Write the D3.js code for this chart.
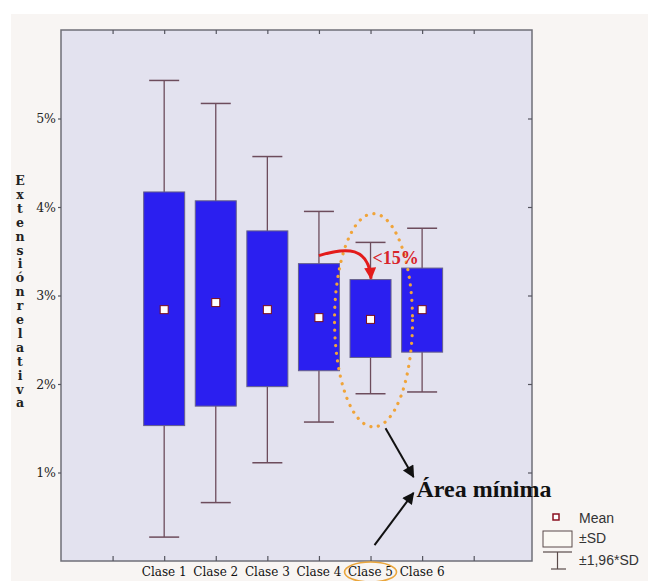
<!DOCTYPE html>
<html>
<head>
<meta charset="utf-8">
<script src="https://cdn.jsdelivr.net/npm/d3@7"></script>
<style>
  body { margin: 0; background: #ffffff; }
  svg { display: block; }
</style>
</head>
<body>
<svg id="chart" width="648" height="581"></svg>
<script>
// Data
var categories = ['Clase 1', 'Clase 2', 'Clase 3', 'Clase 4', 'Clase 5', 'Clase 6'];
var means    = [2.84, 2.92, 2.84, 2.75, 2.73, 2.84];
var sdLow    = [1.53, 1.75, 1.97, 2.15, 2.30, 2.36];
var sdHigh   = [4.17, 4.07, 3.73, 3.36, 3.18, 3.31];
var ciLow    = [0.27, 0.66, 1.11, 1.57, 1.89, 1.91];
var ciHigh   = [5.43, 5.17, 4.57, 3.95, 3.60, 3.76];
var yTicks   = [1, 2, 3, 4, 5];
var legendLabels = ['Mean', '\u00b1SD', '\u00b11,96*SD'];
var yTitle = 'Extensi\u00f3nrelativa';   // printed one letter per row, no gap

var svg = d3.select('#chart');

// page panel
svg.append('rect').attr('x', 11).attr('y', 14).attr('width', 637).attr('height', 567)
  .attr('fill', '#f8f5f3');

// scales
var x = d3.scaleLinear().domain([-1, 8.13]).range([61, 532]);
var y = d3.scaleLinear().domain([0, 6]).range([561, 30]);

var pLeft = x.range()[0], pRight = x.range()[1], pTop = y.range()[1], pBottom = y.range()[0];

// plot background
svg.append('rect')
  .attr('x', pLeft).attr('y', pTop)
  .attr('width', pRight - pLeft).attr('height', pBottom - pTop)
  .attr('fill', '#e3e2ef')
  .attr('stroke', '#6f6f78').attr('stroke-width', 1.5);

// axes
var fmt = function(d) { return d + '%'; };
var yAxisL = svg.append('g').attr('transform', 'translate(' + pLeft + ',0)')
  .call(d3.axisLeft(y).tickValues(yTicks).tickFormat(fmt).tickSize(3).tickPadding(2));
var yAxisR = svg.append('g').attr('transform', 'translate(' + pRight + ',0)')
  .call(d3.axisLeft(y).tickValues(yTicks).tickFormat('').tickSize(4));
var xTicks = d3.range(0, 8);
var xAxisB = svg.append('g').attr('transform', 'translate(0,' + pBottom + ')')
  .call(d3.axisTop(x).tickValues(xTicks).tickFormat('').tickSize(5));
var xAxisT = svg.append('g').attr('transform', 'translate(0,' + pTop + ')')
  .call(d3.axisBottom(x).tickValues(xTicks).tickFormat('').tickSize(4));

[yAxisL, yAxisR, xAxisB, xAxisT].forEach(function(g) {
  g.select('.domain').remove();
  g.selectAll('line').attr('stroke', '#55555f').attr('stroke-width', 1.2);
});
yAxisL.selectAll('text')
  .attr('font-family', 'DejaVu Serif').attr('font-size', 12.5).attr('fill', '#222');

// category labels
svg.append('g').selectAll('text').data(categories).join('text')
  .attr('x', function(d, i) { return x(i + 1); })
  .attr('y', 576)
  .attr('text-anchor', 'middle')
  .attr('font-family', 'DejaVu Serif').attr('font-size', 12).attr('fill', '#111')
  .text(function(d) { return d; });

// y title, letters stacked
var yt = svg.append('text')
  .attr('font-family', 'DejaVu Serif').attr('font-weight', 'bold')
  .attr('font-size', 12.5).attr('fill', '#222').attr('text-anchor', 'middle');
yTitle.split('').forEach(function(ch, i) {
  yt.append('tspan').attr('x', 20).attr('y', 185 + i * 13.9).text(ch);
});

var boxW = 41, capW = 30;
var whiskerColor = '#6d4c5c';
var g = svg.append('g');

categories.forEach(function(c, i) {
  var cx = x(i + 1);
  // whiskers
  g.append('line').attr('x1', cx).attr('x2', cx)
    .attr('y1', y(ciHigh[i])).attr('y2', y(ciLow[i]))
    .attr('stroke', whiskerColor).attr('stroke-width', 1.3);
  [ciHigh[i], ciLow[i]].forEach(function(v) {
    g.append('line').attr('x1', cx - capW / 2).attr('x2', cx + capW / 2)
      .attr('y1', y(v)).attr('y2', y(v))
      .attr('stroke', whiskerColor).attr('stroke-width', 1.5);
  });
  // box
  g.append('rect')
    .attr('x', cx - boxW / 2).attr('y', y(sdHigh[i]))
    .attr('width', boxW).attr('height', y(sdLow[i]) - y(sdHigh[i]))
    .attr('fill', '#2b1ff0').attr('stroke', '#66608a').attr('stroke-width', 1);
  // mean
  g.append('rect')
    .attr('x', cx - 4).attr('y', y(means[i]) - 4)
    .attr('width', 8).attr('height', 8)
    .attr('fill', '#ffffff').attr('stroke', '#7a0e1a').attr('stroke-width', 1);
});

// annotations
var defs = svg.append('defs');
function marker(id, color, w, h) {
  defs.append('marker').attr('id', id)
    .attr('viewBox', '0 0 10 10').attr('refX', 9).attr('refY', 5)
    .attr('markerWidth', w).attr('markerHeight', h)
    .attr('markerUnits', 'userSpaceOnUse')
    .attr('orient', 'auto')
    .append('path').attr('d', 'M0,0 L10,5 L0,10 Z').attr('fill', color);
}
marker('arrRed', '#e31b1b', 14, 12);
marker('arrBlack', '#111', 16, 12);

// dotted ellipse around Clase 5
svg.append('ellipse')
  .attr('cx', x(5) + 3).attr('cy', y(2.72))
  .attr('rx', 39).attr('ry', (y(1.52) - y(3.93)) / 2)
  .attr('fill', 'none').attr('stroke', '#f0a43a').attr('stroke-width', 3.2)
  .attr('stroke-linecap', 'round').attr('stroke-dasharray', '0.1 7.6');

// red curved arrow
var x4 = x(4), x5 = x(5);
svg.append('path')
  .attr('d', 'M' + x4 + ',' + y(3.45) + ' C' + (x4 + 28) + ',' + y(3.55) + ' ' + (x5 - 2) + ',' + y(3.55) + ' ' + (x5 + 0.5) + ',' + (y(3.18) - 1))
  .attr('fill', 'none').attr('stroke', '#e31b1b').attr('stroke-width', 3)
  .attr('marker-end', 'url(#arrRed)');

svg.append('text')
  .attr('x', x5 + 2).attr('y', y(3.36))
  .attr('font-family', 'Liberation Serif').attr('font-weight', 'bold')
  .attr('font-size', 18).attr('fill', '#d8242a')
  .text('<15%');

// black arrows
svg.append('line')
  .attr('x1', x5 + 15).attr('y1', y(1.5)).attr('x2', x5 + 43).attr('y2', y(0.95))
  .attr('stroke', '#111').attr('stroke-width', 2).attr('marker-end', 'url(#arrBlack)');
svg.append('line')
  .attr('x1', x5 + 4).attr('y1', y(0.18)).attr('x2', x5 + 43).attr('y2', y(0.77))
  .attr('stroke', '#111').attr('stroke-width', 2).attr('marker-end', 'url(#arrBlack)');

svg.append('text')
  .attr('x', x5 + 46).attr('y', 497)
  .attr('font-family', 'Liberation Serif').attr('font-weight', 'bold')
  .attr('font-size', 24).attr('fill', '#111')
  .text('\u00c1rea m\u00ednima');

// ellipse round the Clase 5 label
svg.append('ellipse')
  .attr('cx', x5).attr('cy', 572).attr('rx', 26).attr('ry', 10)
  .attr('fill', 'none').attr('stroke', '#eaa63c').attr('stroke-width', 1.6);

// legend
var lg = svg.append('g').attr('font-family', 'Liberation Sans').attr('font-size', 14).attr('fill', '#333');
lg.append('rect').attr('x', 553).attr('y', 514).attr('width', 6).attr('height', 6)
  .attr('fill', '#fff').attr('stroke', '#8a1020').attr('stroke-width', 1.5);
lg.append('rect').attr('x', 543).attr('y', 531).attr('width', 29).attr('height', 16)
  .attr('fill', '#fbf9f4').attr('stroke', '#5a4a4a').attr('stroke-width', 1);
lg.append('line').attr('x1', 543).attr('x2', 572).attr('y1', 552).attr('y2', 552)
  .attr('stroke', '#5a4a4a').attr('stroke-width', 1.2);
lg.append('line').attr('x1', 557.5).attr('x2', 557.5).attr('y1', 552).attr('y2', 569)
  .attr('stroke', '#5a4a4a').attr('stroke-width', 1.2);
lg.append('line').attr('x1', 551).attr('x2', 566).attr('y1', 569).attr('y2', 569)
  .attr('stroke', '#5a4a4a').attr('stroke-width', 1.2);
lg.selectAll('text').data(legendLabels).join('text')
  .attr('x', 579)
  .attr('y', function(d, i) { return [523, 543, 565][i]; })
  .text(function(d) { return d; });
</script>
</body>
</html>
